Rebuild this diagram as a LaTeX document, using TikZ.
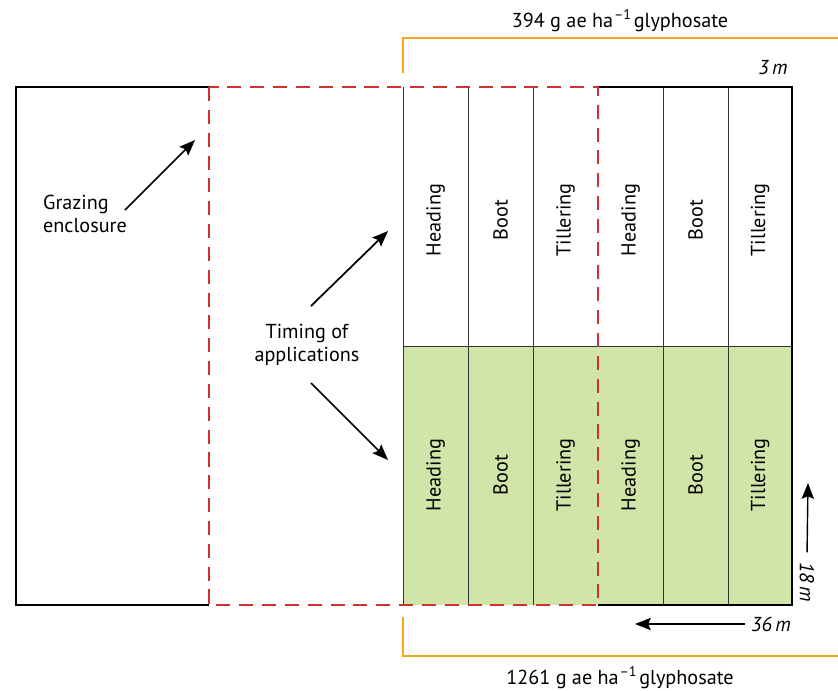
\documentclass[tikz,border=0pt]{standalone}
\usepackage{fontspec}
\setmainfont{PT Sans}
\usetikzlibrary{arrows.meta}
\definecolor{dashred}{HTML}{D0312D}
\definecolor{doseorange}{HTML}{F5A81C}
\definecolor{plotgreen}{HTML}{D1E5A9}
\newcommand{\inv}{\textsuperscript{\kern0.5pt–1}\kern1pt}
\tikzset{
    lbl/.style={font=\fontsize{11.5}{13.5}\selectfont},
    dim/.style={font=\fontsize{11.5}{13.5}\selectfont\itshape},
    arr/.style={-{Stealth[length=9pt,width=7pt,inset=1.5pt]},line width=1pt},
    thin line/.style={line width=0.5pt,black!80}
}
\begin{document}
\begin{tikzpicture}[x=0.02cm,y=-0.02cm]
    \useasboundingbox (0,0) rectangle (838,690);

    % Fond vert de la moitie basse
    \fill[plotgreen] (403,346) rectangle (792,605);

    % Lignes des parcelles
    \foreach \x in {403,468,533,663,728}
        \draw[thin line] (\x,87) -- (\x,605);
    \draw[thin line] (403,346) -- (792,346);

    % Etiquettes des stades
    \foreach \x/\t in {435.5/Heading,500.5/Boot,565.5/Tillering,630.5/Heading,695.5/Boot,760/Tillering}{
        \node[lbl,rotate=90] at (\x,220) {\t};
        \node[lbl,rotate=90] at (\x,475) {\t};
    }

    % Bords noirs
    \draw[line width=1.6pt] (209,87) -- (16,87) -- (16,605) -- (209,605);
    \draw[line width=1.6pt] (598,87) -- (792,87) -- (792,605) -- (598,605);

    % Enclos en tirets rouges
    \draw[dashred,line width=1.4pt,dash pattern=on 8pt off 5pt] (209,87) rectangle (598,605);

    % Crochets orange des doses
    \draw[doseorange,line width=1pt] (403,73) -- (403,38) -- (838,38);
    \draw[doseorange,line width=1pt] (403,617) -- (403,656) -- (838,656);
    \node[lbl,anchor=base] (doseTop) at (620,27) {394 g ae ha\inv glyphosate};
    \node[lbl,anchor=base] (doseBot) at (620,684) {1261 g ae ha\inv glyphosate};

    % Textes et fleches
    \node[lbl,align=left] (graz) at (85,214) {Grazing\\enclosure};
    \coordinate (grazFoot) at (125,210);
    \coordinate (grazTip) at (195,140);
    \draw[arr] (grazFoot) -- (grazTip);

    \node[lbl,align=center] (timing) at (307,345) {Timing of\\applications};
    \coordinate (timUp) at (311,306);
    \coordinate (timUpTip) at (388,231);
    \coordinate (timDn) at (311,383);
    \coordinate (timDnTip) at (388,460);
    \draw[arr] (timUp) -- (timUpTip);
    \draw[arr] (timDn) -- (timDnTip);

    % Dimensions
    \node[dim] (width) at (773,68) {3\,m};
    \node[dim] (len) at (771,624) {36\,m};
    \node[dim,rotate=-90] (depth) at (807,582) {18\,m};
    \coordinate (lenTip) at (635,624);
    \coordinate (depthTip) at (808,483);
    \draw[arr,line width=0.8pt] (len.west) -- (lenTip);
    \draw[arr,line width=0.8pt,shorten <=2pt] (depth.west) -- (depthTip);
\end{tikzpicture}
\end{document}
